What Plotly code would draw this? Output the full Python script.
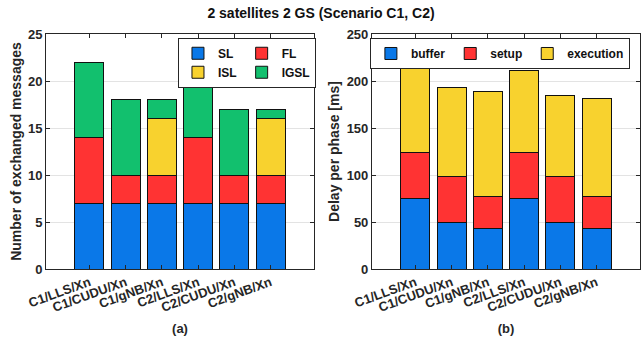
import plotly.graph_objects as go
from plotly.subplots import make_subplots

categories = ["C1/LLS/Xn", "C1/CUDU/Xn", "C1/gNB/Xn", "C2/LLS/Xn", "C2/CUDU/Xn", "C2/gNB/Xn"]

# (a) number of exchanged messages
sl = [7, 7, 7, 7, 7, 7]
fl = [7, 3, 3, 7, 3, 3]
isl = [0, 0, 6, 0, 0, 6]
igsl = [8, 8, 2, 7, 7, 1]

# (b) delay per phase [ms]
buffer_ms = [75, 49, 43, 75, 49, 43]
setup_ms = [49, 49, 34, 49, 49, 34]
execution_ms = [95, 95, 112, 87, 87, 104]

C_BLUE = "#0a78e8"
C_RED = "#ff3333"
C_YELLOW = "#f8d22e"
C_GREEN = "#12c06e"
EDGE = "#111111"
AX = "#262626"
FONT = "Liberation Sans"

fig = make_subplots(rows=1, cols=2, horizontal_spacing=0.0975)

left = [("SL", sl, C_BLUE, "g1"), ("FL", fl, C_RED, "g2"),
        ("ISL", isl, C_YELLOW, "g1"), ("IGSL", igsl, C_GREEN, "g2")]
for name, vals, col, grp in left:
    fig.add_trace(go.Bar(x=categories, y=vals, name=name, legendgroup=grp,
                         marker=dict(color=col, line=dict(color=EDGE, width=1)),
                         width=0.8, legend="legend"), row=1, col=1)

right = [("buffer", buffer_ms, C_BLUE), ("setup", setup_ms, C_RED),
         ("execution", execution_ms, C_YELLOW)]
for name, vals, col in right:
    fig.add_trace(go.Bar(x=categories, y=vals, name=name,
                         marker=dict(color=col, line=dict(color=EDGE, width=1)),
                         width=0.8, legend="legend2"), row=1, col=2)

fig.update_layout(
    barmode="stack",
    width=642, height=338,
    margin=dict(l=46, r=2, t=34, b=69, autoexpand=False),
    paper_bgcolor="white", plot_bgcolor="white",
    font=dict(family=FONT, size=13, color="#262626", weight="bold"),
    title=dict(text="2 satellites 2 GS (Scenario C1, C2)", x=0.5, xanchor="center",
               y=1 - 13 / 338, yref="container", yanchor="middle",
               font=dict(size=14, color="#111111", weight="bold")),
    legend=dict(orientation="h", traceorder="grouped", x=0.4545, xanchor="right",
                y=0.984, yanchor="top", bgcolor="white", bordercolor=AX, borderwidth=1,
                font=dict(size=12, color="#111111"), tracegroupgap=0),
    legend2=dict(orientation="h", traceorder="normal", x=0.983, xanchor="right",
                 y=0.983, yanchor="top", bgcolor="white", bordercolor=AX, borderwidth=1,
                 font=dict(size=12, color="#111111")),
    bargap=0.2,
)

xcommon = dict(range=[-1.2, 6.2], tickangle=-20, showline=True, linecolor=AX, linewidth=1,
               mirror="ticks", ticks="inside", ticklen=4, tickcolor=AX, showgrid=False,
               automargin=False,
               tickfont=dict(size=13, color="#262626"), title_font=dict(size=13, color="#262626"),
               title_standoff=10)
ycommon = dict(showline=True, linecolor=AX, linewidth=1, mirror="ticks", ticks="inside",
               ticklen=4, tickcolor=AX, showgrid=True, gridcolor="#e3e3e3", zeroline=False,
               automargin=False,
               tickfont=dict(size=13, color="#262626"), title_font=dict(size=14, color="#262626"),
               title_standoff=3)

fig.update_xaxes(xcommon)
fig.update_yaxes(ycommon)
fig.update_xaxes(title_text="(a)", row=1, col=1)
fig.update_xaxes(title_text="(b)", row=1, col=2)
fig.update_yaxes(range=[0, 25], dtick=5, title_text="Number of exchanged messages", row=1, col=1)
fig.update_yaxes(range=[0, 250], dtick=50, title_text="Delay per phase [ms]", row=1, col=2)

fig.write_html("out.html", config={"displayModeBar": False},
               post_script="document.body.style.margin='0';")
